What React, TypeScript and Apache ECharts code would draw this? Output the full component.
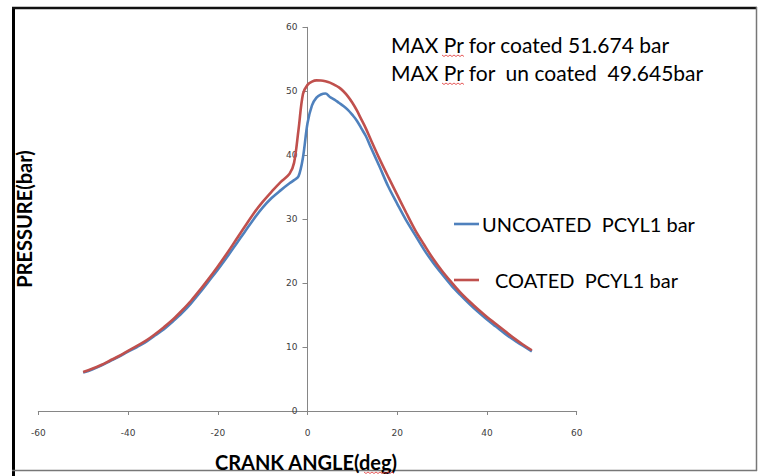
import React, { useEffect, useRef } from "react";
import * as echarts from "echarts";

const angles = [
  -50, -48, -46, -44, -42, -40, -38, -36, -34, -32, -30, -28, -26, -24, -22, -20, -18, -16, -14, -12, -10, -8, -6, -4,
  -3, -2, -1, 0, 1, 2, 3, 4, 5, 6, 7, 8, 9, 10, 11, 12, 13, 14, 16, 18, 20, 22, 24, 26, 28, 30, 32, 34, 36, 38, 40,
  42, 44, 46, 48, 50,
];
const coated = [
  6.1, 6.6, 7.2, 7.9, 8.6, 9.4, 10.2, 11.0, 12.0, 13.1, 14.3, 15.7, 17.2, 18.9, 20.7, 22.6, 24.6, 26.7, 28.8, 30.9,
  32.7, 34.3, 35.8, 37.1, 38.8, 44.0, 49.6, 51.0, 51.5, 51.7, 51.674, 51.55, 51.35, 51.0, 50.6, 50.0, 49.2, 48.2, 47.0,
  45.6, 44.2, 42.6, 39.5, 36.6, 33.8, 31.0, 28.3, 26.0, 23.8, 21.9, 20.2, 18.6, 17.2, 15.9, 14.7, 13.6, 12.5, 11.4,
  10.4, 9.5,
];
const uncoated = [
  6.0, 6.5, 7.1, 7.8, 8.5, 9.3, 10.0, 10.8, 11.8, 12.8, 14.0, 15.3, 16.8, 18.5, 20.3, 22.1, 24.0, 26.0, 28.0, 30.0,
  31.8, 33.3, 34.5, 35.6, 36.1, 36.7, 39.7, 45.0, 47.8, 49.0, 49.5, 49.645, 49.1, 48.7, 48.2, 47.7, 47.1, 46.3, 45.4,
  44.2, 43.0, 41.4, 38.3, 35.1, 32.4, 29.8, 27.5, 25.2, 23.2, 21.4, 19.7, 18.2, 16.8, 15.5, 14.3, 13.2, 12.1, 11.1,
  10.2, 9.3,
];
const seriesNames = ["UNCOATED  PCYL1 bar", "COATED  PCYL1 bar"];
const noteLines = ["MAX Pr for coated 51.674 bar", "MAX Pr for  un coated  49.645bar"];
const xTitle = "CRANK ANGLE(deg)";
const yTitle = "PRESSURE(bar)";

const BLUE = "#4F81BD";
const RED = "#C0504D";
const FONT = "Lato, 'Open Sans', sans-serif";

const GRID_LEFT = 38.3;
const GRID_RIGHT = 181.3;
const GRID_W = 758 - GRID_LEFT - GRID_RIGHT;

function squiggle(x0: number, y: number, w: number) {
  const pts: number[][] = [];
  for (let i = 0; i <= Math.round(w / 2); i++) pts.push([x0 + i * 2, y + (i % 2 === 0 ? 0 : 1.5)]);
  return {
    type: "polyline",
    shape: { points: pts },
    style: { stroke: "#e03030", lineWidth: 0.8, fill: null },
    silent: true,
  };
}

export default function App() {
  const ref = useRef<HTMLDivElement>(null);
  useEffect(() => {
    if (!ref.current) return;
    const chart = echarts.init(ref.current, undefined, { renderer: "svg" });
    const uData = angles.map((a, i) => [a, uncoated[i]]);
    const cData = angles.map((a, i) => [a, coated[i]]);
    chart.setOption({
      animation: false,
      backgroundColor: "#ffffff",
      grid: { left: GRID_LEFT, right: GRID_RIGHT, top: 27.3, bottom: 65, containLabel: false },
      xAxis: {
        type: "value",
        min: -60,
        max: 60,
        interval: 20,
        axisLine: { show: true, onZero: false, lineStyle: { color: "#868686", width: 1 } },
        axisTick: { show: true, length: 4, lineStyle: { color: "#868686" } },
        axisLabel: { color: "#404040", fontSize: 9, fontFamily: "Verdana, 'DejaVu Sans', sans-serif", margin: 17 },
        splitLine: { show: false },
      },
      yAxis: {
        type: "value",
        min: 0,
        max: 60,
        interval: 10,
        position: "left",
        offset: -GRID_W / 2,
        axisLine: { show: true, onZero: false, lineStyle: { color: "#868686", width: 1 } },
        axisTick: { show: true, length: 5, lineStyle: { color: "#868686" } },
        axisLabel: { color: "#404040", fontSize: 9, fontFamily: "Verdana, 'DejaVu Sans', sans-serif", margin: 10 },
        splitLine: { show: false },
      },
      series: [
        {
          name: seriesNames[0],
          type: "line",
          data: uData,
          showSymbol: false,
          smooth: 0.35,
          lineStyle: { color: BLUE, width: 2.6 },
          itemStyle: { color: BLUE },
          z: 2,
        },
        {
          name: seriesNames[1],
          type: "line",
          data: cData,
          showSymbol: false,
          smooth: 0.35,
          lineStyle: { color: RED, width: 2.6 },
          itemStyle: { color: RED },
          z: 3,
        },
      ],
      graphic: [
        // frame
        { type: "line", shape: { x1: 13.5, y1: 8, x2: 13.5, y2: 476 }, style: { stroke: "#000", lineWidth: 3 }, silent: true },
        { type: "line", shape: { x1: 12, y1: 8, x2: 757, y2: 8 }, style: { stroke: "#111", lineWidth: 2.5 }, silent: true },
        { type: "line", shape: { x1: 756.5, y1: 7, x2: 756.5, y2: 471 }, style: { stroke: "#777", lineWidth: 1.5 }, silent: true },
        { type: "line", shape: { x1: 12, y1: 470.5, x2: 757, y2: 470.5 }, style: { stroke: "#777", lineWidth: 1.5 }, silent: true },
        // notes
        {
          type: "text",
          x: 391,
          y: 44,
          style: { text: noteLines[0], font: `21px ${FONT}`, fill: "#000", textAlign: "left", textVerticalAlign: "middle" },
        },
        {
          type: "text",
          x: 391,
          y: 72,
          style: { text: noteLines[1], font: `21px ${FONT}`, fill: "#000", textAlign: "left", textVerticalAlign: "middle" },
        },
        squiggle(442, 55, 22),
        squiggle(442, 83, 22),
        // legend
        { type: "line", shape: { x1: 454, y1: 224, x2: 479, y2: 224 }, style: { stroke: BLUE, lineWidth: 2.6 }, silent: true },
        {
          type: "text",
          x: 482,
          y: 224,
          style: { text: seriesNames[0], font: `20px ${FONT}`, fill: "#000", textAlign: "left", textVerticalAlign: "middle" },
        },
        { type: "line", shape: { x1: 454, y1: 280, x2: 479, y2: 280 }, style: { stroke: RED, lineWidth: 2.6 }, silent: true },
        {
          type: "text",
          x: 495,
          y: 280,
          style: { text: seriesNames[1], font: `20px ${FONT}`, fill: "#000", textAlign: "left", textVerticalAlign: "middle" },
        },
        // axis titles
        {
          type: "text",
          x: 306,
          y: 462,
          style: { text: xTitle, font: `bold 20px ${FONT}`, fill: "#000", textAlign: "center", textVerticalAlign: "middle" },
        },
        squiggle(364, 472, 30),
        {
          type: "text",
          x: 24,
          y: 219,
          rotation: Math.PI / 2,
          style: { text: yTitle, font: `bold 20px ${FONT}`, fill: "#000", textAlign: "center", textVerticalAlign: "middle" },
        },
      ],
    });
    return () => chart.dispose();
  }, []);
  return <div ref={ref} style={{ position: "fixed", left: 0, top: 0, width: 758, height: 476, background: "#fff" }} />;
}
